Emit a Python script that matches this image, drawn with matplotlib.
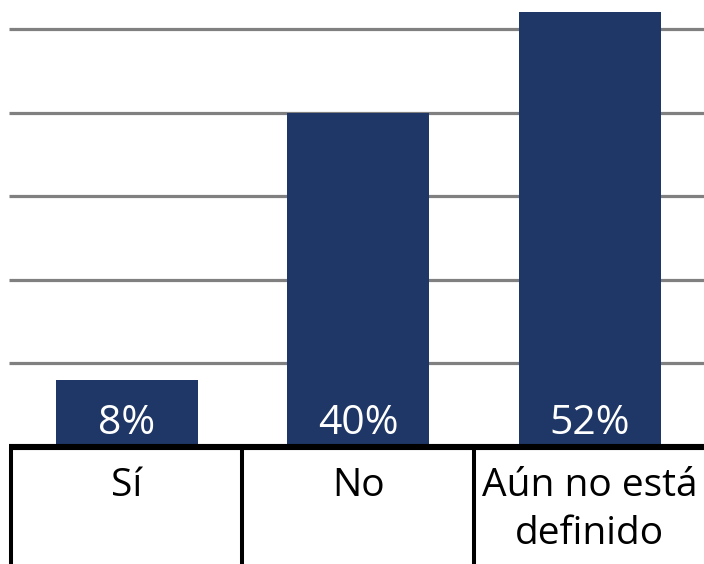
import textwrap
import matplotlib
matplotlib.use("Agg")
import matplotlib.pyplot as plt

categories = ["Sí", "No", "Aún no está definido"]
values = [8, 40, 52]
value_labels = ["8%", "40%", "52%"]
grid_ticks = [10, 20, 30, 40, 50]

plt.rcParams['font.family'] = ['Open Sans', 'DejaVu Sans']

W, H = 704, 564
fig = plt.figure(figsize=(W / 100, H / 100), dpi=100)
zero_px = 446.5          # pixel row (from top) of the value axis zero
px_per_unit = 8.35       # pixels per percentage point
left_px, right_px = 11, 705.5
ax = fig.add_axes([left_px / W, (H - zero_px) / H, (right_px - left_px) / W, zero_px / H])
ax.set_xlim(-0.5, len(categories) - 0.5)
ax.set_ylim(0, zero_px / px_per_unit)

bar_color = "#1F3766"
x = list(range(len(categories)))
ax.bar(x, values, width=0.613, color=bar_color, zorder=3)

# gridlines
for t in grid_ticks:
    ax.plot([-0.51, 2.55], [t, t], color="#808080", lw=2.3, zorder=1,
            clip_on=False, solid_capstyle="butt")

# baseline and category separators
ax.plot([-0.51, 2.55], [0, 0], color="black", lw=4.4, zorder=5, clip_on=False,
        solid_capstyle="butt")
trans = ax.get_xaxis_transform()
for xs in [-0.5, 0.5, 1.5]:
    ax.plot([xs, xs], [0, -0.3], color="black", lw=2.9, transform=trans,
            clip_on=False, zorder=5, solid_capstyle="butt")

# value labels
for xi, lab in zip(x, value_labels):
    ax.annotate(lab, xy=(xi, 0), xytext=(0, 12 * 0.72), textcoords="offset points",
                ha="center", va="baseline", color="white", fontsize=29.5, zorder=6)

# category labels (wrapped, one line at a time)
line_step_px = 48
for xi, cat in zip(x, categories):
    for k, line in enumerate(textwrap.wrap(cat, 12)):
        ax.annotate(line, xy=(xi, 0),
                    xytext=(0, -(50 + k * line_step_px) * 0.72),
                    textcoords="offset points", ha="center", va="baseline",
                    color="black", fontsize=28, annotation_clip=False)

ax.set_axis_off()
fig.savefig("out.png", dpi=100)
